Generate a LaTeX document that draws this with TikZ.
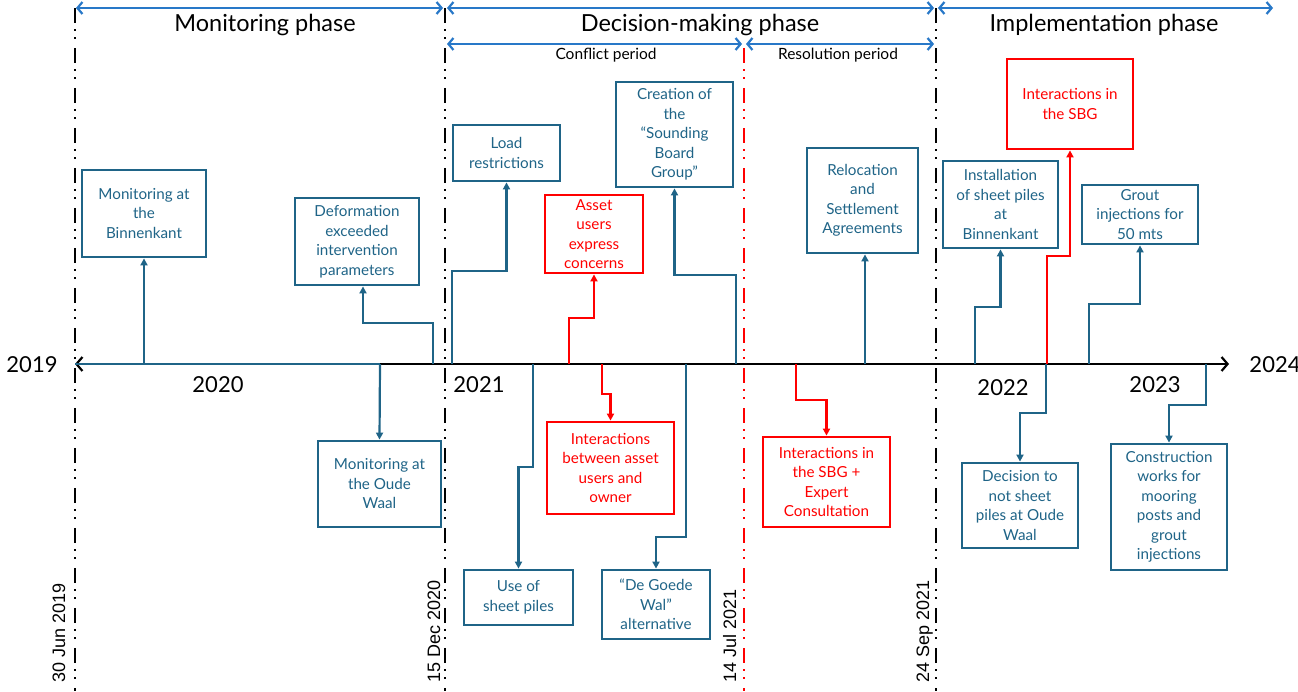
\documentclass[tikz,border=0pt]{standalone}
\usepackage{fontspec}
\setmainfont{Lato}
\newfontfamily\datefont{Liberation Sans}
\usetikzlibrary{arrows.meta,calc}
\definecolor{boxteal}{RGB}{31,100,135}
\definecolor{phaseblue}{RGB}{40,120,200}
\definecolor{alertred}{RGB}{255,0,0}
\begin{document}
\begin{tikzpicture}[x=1pt,y=-1pt,
  tbox/.style={draw=boxteal,line width=2.8pt,text=boxteal,align=center,inner sep=0pt,
    font=\fontsize{15.2}{19.5}\selectfont},
  rbox/.style={tbox,draw=alertred,text=alertred},
  conn/.style={draw=boxteal,line width=2.2pt,-{Triangle[length=7pt,width=7pt]}},
  rconn/.style={conn,draw=alertred},
  plain/.style={draw=boxteal,line width=2.2pt},
  phasearrow/.style={draw=phaseblue,line width=2.2pt,
    {Straight Barb[length=5pt,width=12pt]}-{Straight Barb[length=5pt,width=12pt]}},
  axisline/.style={draw=black,line width=2.2pt,
    {Straight Barb[length=6pt,width=14pt]}-{Straight Barb[length=6pt,width=14pt]}},
  dateline/.style={line width=2.5pt,dash pattern=on 15pt off 6pt on 2pt off 6pt on 2pt off 9pt},
  phaselabel/.style={font=\fontsize{23.5}{27}\selectfont},
  periodlabel/.style={font=\fontsize{15.5}{18}\selectfont},
  yearlabel/.style={font=\fontsize{22}{26}\selectfont},
  datelabel/.style={font=\datefont\fontsize{18}{20}\selectfont,rotate=90,anchor=base west}
]
\useasboundingbox (0,0) rectangle (1298,691);

% date separators
\coordinate (d1t) at (75,8);   \coordinate (d1b) at (75,691);
\coordinate (d2t) at (445,8);  \coordinate (d2b) at (445,691);
\coordinate (d3t) at (744,48); \coordinate (d3b) at (744,691);
\coordinate (d4t) at (936,8);  \coordinate (d4b) at (936,691);
\draw[dateline] (d1t) -- (d1b);
\draw[dateline] (d2t) -- (d2b);
\draw[dateline,draw=alertred] (d3t) -- (d3b);
\draw[dateline] (d4t) -- (d4b);

\node[datelabel] (dl1) at (65,686) {30 Jun 2019};
\node[datelabel] (dl2) at (440,686) {15 Dec 2020};
\node[datelabel] (dl3) at (736,686) {14 Jul 2021};
\node[datelabel] (dl4) at (929,686) {24 Sep 2021};

% phases and periods
\coordinate (pm1) at (76,8);   \coordinate (pm2) at (443,8);
\coordinate (pd1) at (447,8);  \coordinate (pd2) at (934,8);
\coordinate (pi1) at (938,8);  \coordinate (pi2) at (1273,8);
\coordinate (pc1) at (447,44); \coordinate (pc2) at (742,44);
\coordinate (pr1) at (746,44); \coordinate (pr2) at (934,44);
\draw[phasearrow] (pm1) -- (pm2);
\draw[phasearrow] (pd1) -- (pd2);
\draw[phasearrow] (pi1) -- (pi2);
\draw[phasearrow] (pc1) -- (pc2);
\draw[phasearrow] (pr1) -- (pr2);
\node[phaselabel] (lm) at (265,25) {Monitoring phase};
\node[phaselabel] (ld) at (700,25) {Decision-making phase};
\node[phaselabel] (li) at (1104,25) {Implementation phase};
\node[periodlabel] (lc) at (606,55) {Conflict period};
\node[periodlabel] (lr) at (838,55) {Resolution period};

% time axis
\coordinate (ax0) at (75,364);
\coordinate (ax1) at (1229,364);
\draw[axisline] (ax0) -- (ax1);
\node[yearlabel] (y19) at (32,365) {2019};
\node[yearlabel] (y20) at (218,385) {2020};
\node[yearlabel] (y21) at (479,385) {2021};
\node[yearlabel] (y22) at (1003,388) {2022};
\node[yearlabel] (y23) at (1155,385) {2023};
\node[yearlabel] (y24) at (1275,365) {2024};

% event boxes above the axis
\node[tbox,minimum width=124pt,minimum height=87pt] (b1) at (144,213.5) {Monitoring at\\the\\Binnenkant};
\node[tbox,minimum width=124pt,minimum height=87pt] (b2) at (357,241.5) {Deformation\\exceeded\\intervention\\parameters};
\node[tbox,minimum width=107pt,minimum height=56pt] (b4) at (506.5,153) {Load\\restrictions};
\node[rbox,minimum width=98pt,minimum height=78pt] (b5) at (594,234) {Asset\\users\\express\\concerns};
\node[tbox,minimum width=117pt,minimum height=105pt] (b6) at (674.5,134.5) {Creation of\\the\\“Sounding\\Board\\Group”};
\node[tbox,minimum width=111pt,minimum height=105pt] (b10) at (862.5,200.5) {Relocation\\and\\Settlement\\Agreements};
\node[tbox,minimum width=115pt,minimum height=87pt] (b14) at (1000.5,204.5) {Installation\\of sheet piles\\at\\Binnenkant};
\node[rbox,minimum width=126pt,minimum height=90pt] (b15) at (1070,104) {Interactions in\\the SBG};
\node[tbox,minimum width=116pt,minimum height=59pt] (b16) at (1140,214.5) {Grout\\injections for\\50 mts};

% event boxes below the axis
\node[tbox,minimum width=123pt,minimum height=86pt] (b3) at (379.5,484) {Monitoring at\\the Oude\\Waal};
\node[tbox,minimum width=109pt,minimum height=55pt] (b7) at (518.5,597.5) {Use of\\sheet piles};
\node[rbox,minimum width=127pt,minimum height=92pt] (b8) at (610.5,468) {Interactions\\between asset\\users and\\owner};
\node[tbox,minimum width=108pt,minimum height=69pt] (b9) at (656,604.5) {“De Goede\\Wal”\\alternative};
\node[rbox,minimum width=127pt,minimum height=90pt] (b11) at (826.5,482) {Interactions in\\the SBG +\\Expert\\Consultation};
\node[tbox,minimum width=116pt,minimum height=85pt] (b12) at (1020,505.5) {Decision to\\not sheet\\piles at Oude\\Waal};
\node[tbox,minimum width=116pt,minimum height=126pt] (b13) at (1169,507) {Construction\\works for\\mooring\\posts and\\grout\\injections};

% connectors from the axis
\coordinate (a1) at (144,364);
\coordinate (a2) at (433,364);
\coordinate (a3) at (380,364);
\coordinate (a4) at (452,364);
\coordinate (a5) at (569,364);
\coordinate (a6) at (736,364);
\coordinate (a7) at (533,364);
\coordinate (a8) at (602,364);
\coordinate (a9) at (686,364);
\coordinate (a10) at (865,364);
\coordinate (a11) at (796,364);
\coordinate (a12) at (1046,364);
\coordinate (a13) at (1206,364);
\coordinate (a14) at (975,364);
\coordinate (a15) at (1047,364);
\coordinate (a16) at (1089,364);

\draw[plain] (ax0) -- (a3);
\draw[conn] (a3) -- (b3.north);
\draw[conn] (a1) -- (b1.south);
\draw[conn] (a2) -- ++(0,-41) -| ($(b2.south)+(6,0)$);
\draw[conn] (a4) -- ++(0,-93) -| (b4.south);
\draw[rconn] (a5) -- ++(0,-46) -| (b5.south);
\draw[conn] (a6) -- ++(0,-89) -| (b6.south);
\draw[conn] (a7) -- ++(0,103) -| (b7.north);
\draw[rconn] (a8) -- ++(0,30) -| (b8.north);
\draw[conn] (a9) -- ++(0,173) -| (b9.north);
\draw[conn] (a10) -- (a10 |- b10.south);
\draw[rconn] (a11) -- ++(0,36) -| (b11.north);
\draw[conn] (a12) -- ++(0,49) -| (b12.north);
\draw[conn] (a13) -- ++(0,41) -| (b13.north);
\draw[conn] (a14) -- ++(0,-57) -| (b14.south);
\draw[rconn] (a15) -- ++(0,-108) -| (b15.south);
\draw[conn] (a16) -- ++(0,-60) -| (b16.south);
\end{tikzpicture}
\end{document}
